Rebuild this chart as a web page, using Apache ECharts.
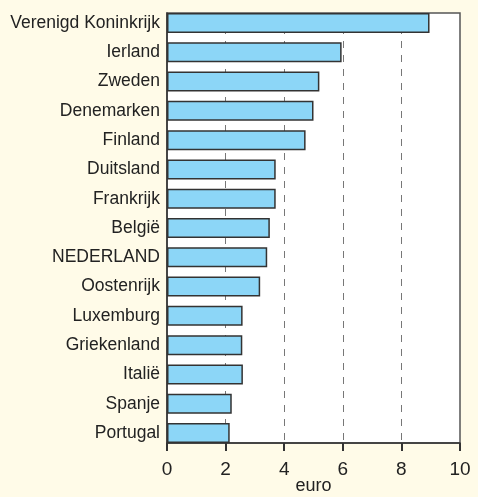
<!DOCTYPE html>
<html>
<head>
<meta charset="utf-8">
<script src="https://cdn.jsdelivr.net/npm/echarts@6/dist/echarts.min.js"></script>
<style>
	html, body { margin: 0; padding: 0; background: #fffbe8; }
	#chart { width: 478px; height: 497px; }
</style>
</head>
<body>
<div id="chart"></div>
<script>
// landen van boven naar beneden
var landen = ['Verenigd Koninkrijk', 'Ierland', 'Zweden', 'Denemarken', 'Finland', 'Duitsland', 'Frankrijk',
	'België', 'NEDERLAND', 'Oostenrijk', 'Luxemburg', 'Griekenland', 'Italië', 'Spanje', 'Portugal'];
var waarden = [8.96, 5.96, 5.2, 5.0, 4.73, 3.71, 3.71, 3.51, 3.42, 3.18, 2.58, 2.57, 2.59, 2.21, 2.14];
var xTicks = [0, 2, 4, 6, 8, 10];

var fontName = "'Liberation Sans', Arial, sans-serif";

var myChart = echarts.init(document.getElementById('chart'));

var option = {
	backgroundColor: '#fffbe8',
	animation: false,
	grid: [
		// staven (iets hoger dan het kader zodat de staven aan boven- en onderkant raken)
		{ left: 167, right: 18, top: 8.33, bottom: 49.33, outerBoundsMode: 'none', containLabel: false },
		// kader + x-as
		{ left: 167, right: 18, top: 13, bottom: 54, outerBoundsMode: 'none', containLabel: false,
			show: true, backgroundColor: '#ffffff', borderColor: '#555555', borderWidth: 1.5 }
	],
	xAxis: [
		{ gridIndex: 0, type: 'value', min: 0, max: 10, show: false },
		{
			gridIndex: 1, type: 'value', min: 0, max: 10, interval: 2,
			name: 'euro', nameLocation: 'middle', nameGap: 34, nameMoveOverlap: false,
			nameTextStyle: { fontFamily: fontName, fontSize: 18, color: '#222' },
			axisLine: { show: true, lineStyle: { color: '#333', width: 1.5 } },
			axisTick: { show: true, length: 8, lineStyle: { color: '#333', width: 2 } },
			axisLabel: { margin: 17, fontFamily: fontName, fontSize: 19, color: '#222',
				formatter: function (v) { return xTicks.indexOf(v) >= 0 ? String(v) : ''; } },
			splitLine: { show: true, showMinLine: false, showMaxLine: false,
				lineStyle: { color: '#777', type: [7, 7], width: 1 } }
		}
	],
	yAxis: [
		{
			gridIndex: 0, type: 'category', inverse: true, data: landen,
			axisLine: { show: false }, axisTick: { show: false },
			axisLabel: { margin: 7, fontFamily: fontName, fontSize: 17.5, color: '#222' }
		},
		{
			gridIndex: 1, type: 'value', min: 0, max: 1,
			axisLine: { show: true, lineStyle: { color: '#333', width: 1.5 } },
			axisTick: { show: false }, axisLabel: { show: false }, splitLine: { show: false }
		}
	],
	series: [{
		type: 'bar',
		xAxisIndex: 0,
		yAxisIndex: 0,
		data: waarden,
		barWidth: 20,
		itemStyle: { color: '#8cd6f7', borderColor: '#333', borderWidth: 1.5 },
		z: 5
	}]
};
myChart.setOption(option);
</script>
</body>
</html>
